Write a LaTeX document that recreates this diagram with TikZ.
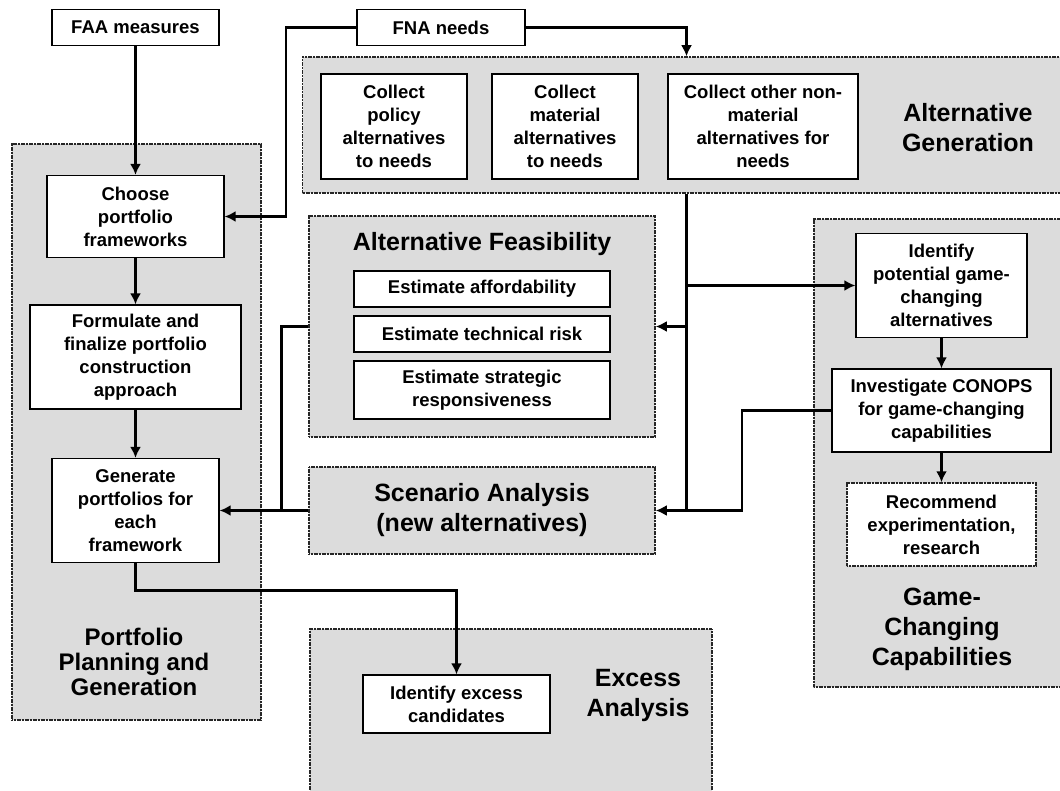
\documentclass[tikz,border=0pt]{standalone}
\usepackage{fontspec}
\setmainfont{Liberation Sans}
\usepackage{tikz}
\usetikzlibrary{arrows.meta}
\usepackage{xcolor}
\definecolor{panelgray}{RGB}{220,220,220}

\begin{document}
\begin{tikzpicture}[x=1pt,y=-1pt]
  \tikzstyle{panel}=[draw=black!85,fill=panelgray,line width=1.5pt,dash pattern=on 1.2pt off 0.4pt,inner sep=0pt]
  \tikzstyle{box}=[draw,fill=white,line width=1.2pt,inner sep=0pt,align=center,font=\bfseries\fontsize{18.5}{23}\selectfont]
  \tikzstyle{dotbox}=[box,draw=black!85,line width=1.5pt,dash pattern=on 1.2pt off 0.4pt]
  \tikzstyle{title}=[align=center,font=\bfseries\fontsize{25}{30}\selectfont]
  \tikzstyle{link}=[draw,solid,line width=2.8pt]
  \tikzstyle{arrowlink}=[link,-{Latex[length=11pt,width=11pt]}]
  \clip (0,0) rectangle (1060,791);
  % panels
  \node[panel,minimum width=249,minimum height=576] (plan) at (136.5,432) {};
  \node[panel,minimum width=768,minimum height=136] (altgen) at (686.5,125) {};
  \node[panel,minimum width=346,minimum height=221] (feas) at (482,326.5) {};
  \node[panel,minimum width=346,minimum height=87] (scen) at (482,510.5) {};
  \node[panel,minimum width=256,minimum height=468] (game) at (942,453) {};
  \node[panel,minimum width=402,minimum height=180] (excess) at (511,719) {};
  % panel titles
  \node[title] (altgentitle) at (968,128) {Alternative\\Generation};
  \node[title] (feastitle) at (482,244) {Alternative Feasibility};
  \node[title] (scentitle) at (482,510) {Scenario Analysis\\(new alternatives)};
  \node[title,font=\bfseries\fontsize{24}{25}\selectfont] (plantitle) at (134,662) {Portfolio\\Planning and\\Generation};
  \node[title] (excesstitle) at (638,695) {Excess\\Analysis};
  \node[title] (gametitle) at (942,629) {Game-\\Changing\\Capabilities};
  % inputs
  \node[box,minimum width=167,minimum height=36] (faa) at (135.5,27.5) {FAA measures};
  \node[box,minimum width=168,minimum height=36] (fna) at (441,27.5) {FNA needs};
  % alternative generation
  \node[box,minimum width=146,minimum height=105] (policy) at (394,126.5) {Collect\\policy\\alternatives\\to needs};
  \node[box,minimum width=146,minimum height=105] (material) at (565,126.5) {Collect\\material\\alternatives\\to needs};
  \node[box,minimum width=190,minimum height=105] (other) at (763,126.5) {Collect other non-\\material\\alternatives for\\needs};
  % portfolio planning
  \node[box,minimum width=177,minimum height=82] (choose) at (135.5,216.5) {Choose\\portfolio\\frameworks};
  \node[box,minimum width=211,minimum height=104] (formulate) at (135.5,357) {Formulate and\\finalize portfolio\\construction\\approach};
  \node[box,minimum width=167,minimum height=104] (generate) at (135.5,510.5) {Generate\\portfolios for\\each\\framework};
  % feasibility
  \node[box,minimum width=256,minimum height=36] (afford) at (482,289) {Estimate affordability};
  \node[box,minimum width=256,minimum height=36] (techrisk) at (482,334) {Estimate technical risk};
  \node[box,minimum width=256,minimum height=58] (strategic) at (482,390) {Estimate strategic\\responsiveness};
  % game-changing
  \node[box,minimum width=171,minimum height=104] (identify) at (941.5,285.5) {Identify\\potential game-\\changing\\alternatives};
  \node[box,minimum width=219,minimum height=83] (conops) at (941.5,410.5) {Investigate CONOPS\\for game-changing\\capabilities};
  \node[dotbox,minimum width=189,minimum height=83] (recommend) at (941.5,524.5) {Recommend\\experimentation,\\research};
  % excess
  \node[box,minimum width=187,minimum height=58] (excessbox) at (456.5,704) {Identify excess\\candidates};
  % connectors
  \draw[arrowlink] (faa) -- (choose);
  \draw[arrowlink] (fna.west) -- ++(-70.5,0) |- (choose.east);
  \draw[arrowlink] (fna.east) -| (altgen.north);
  \draw[link] (altgen.south) -- (altgen.south |- scen.east);
  \draw[arrowlink] (altgen.south |- identify.west) -- (identify.west);
  \draw[arrowlink] (altgen.south |- feas.east) -- (feas.east);
  \draw[arrowlink] (conops.west) -- ++(-89.5,0) |- (scen.east);
  \draw[arrowlink] (identify) -- (conops);
  \draw[arrowlink] (conops) -- (recommend);
  \draw[arrowlink] (choose) -- (formulate);
  \draw[arrowlink] (formulate) -- (generate);
  \draw[link] (feas.west) -- ++(-26.5,0) |- (scen.west);
  \draw[arrowlink] (scen.west) -- (generate.east);
  \draw[arrowlink] (generate.south) -- ++(0,27) -| (excessbox.north);
\end{tikzpicture}
\end{document}
